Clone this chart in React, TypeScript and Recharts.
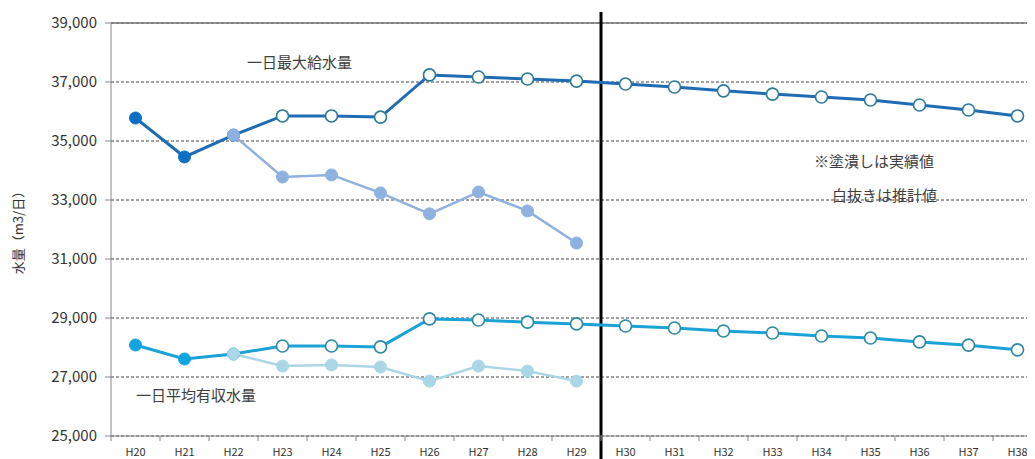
import { CartesianGrid, Line, LineChart, ReferenceLine, XAxis, YAxis } from "recharts";

const years = ["H20", "H21", "H22", "H23", "H24", "H25", "H26", "H27", "H28", "H29", "H30", "H31", "H32", "H33", "H34", "H35", "H36", "H37", "H38"];

// 一日最大給水量 (main line: actual for first points, estimate afterwards)
const maxSupply = [35780, 34460, 35200, 35850, 35850, 35810, 37240, 37170, 37100, 37030, 36930, 36830, 36700, 36590, 36490, 36390, 36220, 36050, 35850];
const maxSupplyActual = [null, null, 35200, 33780, 33850, 33240, 32530, 33270, 32630, 31540, null, null, null, null, null, null, null, null, null];

// 一日平均有収水量
const avgRevenue = [28085, 27610, 27780, 28050, 28050, 28020, 28970, 28930, 28860, 28800, 28730, 28660, 28560, 28490, 28390, 28320, 28190, 28080, 27920];
const avgRevenueActual = [null, null, 27780, 27370, 27410, 27340, 26860, 27370, 27200, 26860, null, null, null, null, null, null, null, null, null];

// which points on the main lines are measured (filled)
const measured = [true, true, true, false, false, false, false, false, false, false, false, false, false, false, false, false, false, false, false];

const yTicks = [25000, 27000, 29000, 31000, 33000, 35000, 37000, 39000];

const chartData = years.map((year, i) => ({
  idx: i,
  year,
  maxSupply: maxSupply[i],
  maxSupplyActual: maxSupplyActual[i],
  avgRevenue: avgRevenue[i],
  avgRevenueActual: avgRevenueActual[i],
}));

const CHART_W = 1045;
const CHART_H = 459;
const Y_AXIS_W = 111;
const MARGIN = { top: 23, right: 3, bottom: 0, left: 0 };
const STEP = (CHART_W - MARGIN.left - MARGIN.right - Y_AXIS_W) / years.length;
const FONT = '"Noto Sans CJK JP", "Noto Sans", sans-serif';

const makeDot = (fill: string, hollowStroke: string) => (props: any) => {
  const { cx, cy, index } = props;
  if (cx == null || cy == null) return <g key={`d-${index}`} />;
  if (measured[index]) {
    return <circle key={`d-${index}`} cx={cx} cy={cy} r={6} fill={fill} stroke={fill} strokeWidth={1} />;
  }
  return <circle key={`d-${index}`} cx={cx} cy={cy} r={6} fill="#fff" stroke={hollowStroke} strokeWidth={1.6} />;
};

const actualDot = (fill: string) => (props: any) => {
  const { cx, cy, index } = props;
  if (cx == null || cy == null || props.value == null) return <g key={`a-${index}`} />;
  return <circle key={`a-${index}`} cx={cx} cy={cy} r={6} fill={fill} stroke={fill} />;
};

const XTick = (props: any) => {
  const { x, y, payload, index } = props;
  const axisY = y - 8;
  return (
    <g>
      <line x1={x - STEP / 2} x2={x - STEP / 2} y1={axisY} y2={axisY + 5} stroke="#888" />
      {index === years.length - 1 && (
        <line x1={x + STEP / 2} x2={x + STEP / 2} y1={axisY} y2={axisY + 5} stroke="#888" />
      )}
      <text x={x} y={axisY + 20} textAnchor="middle" fontSize={11} fill="#333" fontFamily={FONT}>
        {years[payload.value]}
      </text>
    </g>
  );
};

const DividerLine = (props: any) => {
  const { x1, y1, y2 } = props;
  const top = Math.min(y1, y2);
  const bottom = Math.max(y1, y2);
  return <line x1={x1} x2={x1} y1={top - 11} y2={bottom + 25} stroke="#000" strokeWidth={3} />;
};

const note = (text: string, left: number, top: number) => (
  <div
    style={{
      position: "absolute",
      left,
      top,
      fontSize: 15,
      color: "#404040",
      fontFamily: FONT,
      whiteSpace: "nowrap",
      lineHeight: "18px",
    }}
  >
    {text}
  </div>
);

export default function App() {
  return (
    <div
      style={{
        position: "relative",
        width: 1035,
        height: CHART_H,
        overflow: "hidden",
        margin: "-8px 0 0 -8px",
        background: "#fff",
      }}
    >
      <LineChart width={CHART_W} height={CHART_H} data={chartData} margin={MARGIN}>
        <CartesianGrid vertical={false} strokeDasharray="3 2" stroke="#444" />
        <ReferenceLine y={39000} stroke="#777" strokeWidth={1.5} />
        <XAxis
          dataKey="idx"
          type="number"
          domain={[-0.5, years.length - 0.5]}
          ticks={years.map((_, i) => i)}
          interval={0}
          tickLine={false}
          axisLine={{ stroke: "#888" }}
          tick={<XTick />}
          height={23}
        />
        <YAxis
          domain={[25000, 39000]}
          ticks={yTicks}
          width={Y_AXIS_W}
          tickFormatter={(v: number) => v.toLocaleString("en-US")}
          tick={{ fontSize: 15, fill: "#333", fontFamily: FONT }}
          tickLine={{ stroke: "#888" }}
          axisLine={{ stroke: "#888" }}
          tickMargin={8}
          label={{
            value: "水量（m3/日）",
            angle: -90,
            position: "insideLeft",
            offset: 18,
            style: { fontSize: 13, fill: "#333", fontFamily: FONT, textAnchor: "middle" },
          }}
        />
        <ReferenceLine x={9.5} shape={<DividerLine />} />
        <Line
          dataKey="maxSupply"
          stroke="#1f6cb4"
          strokeWidth={3}
          dot={makeDot("#0b6fc6", "#2b7a98")}
          isAnimationActive={false}
        />
        <Line
          dataKey="avgRevenue"
          stroke="#1ba3d8"
          strokeWidth={3}
          dot={makeDot("#12a6e0", "#2b8aa0")}
          isAnimationActive={false}
        />
        <Line
          dataKey="maxSupplyActual"
          stroke="#8fb1e0"
          strokeWidth={2.5}
          dot={actualDot("#8fb1e0")}
          connectNulls={false}
          isAnimationActive={false}
        />
        <Line
          dataKey="avgRevenueActual"
          stroke="#aad6e6"
          strokeWidth={2.5}
          dot={actualDot("#aad6e6")}
          connectNulls={false}
          isAnimationActive={false}
        />
      </LineChart>
      {note("一日最大給水量", 247, 53)}
      {note("一日平均有収水量", 136, 386)}
      {note("※塗潰しは実績値", 814, 152)}
      {note("白抜きは推計値", 832, 186)}
    </div>
  );
}
